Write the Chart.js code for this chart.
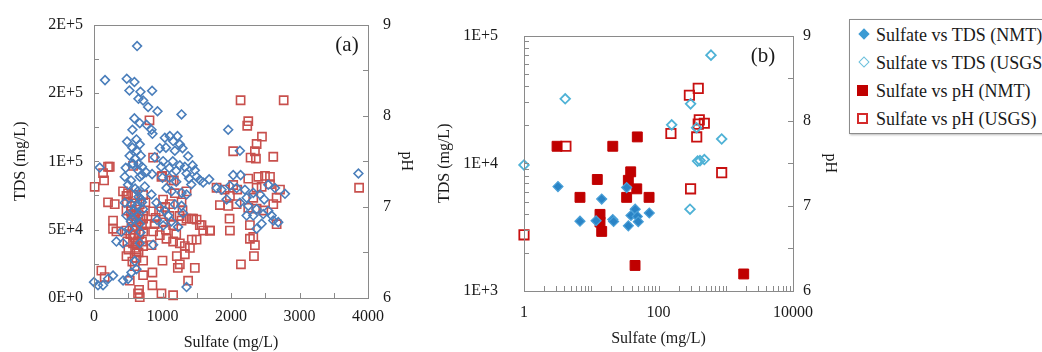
<!DOCTYPE html>
<html>
<head>
<meta charset="utf-8">
<script src="https://cdn.jsdelivr.net/npm/chart.js@4.4.1/dist/chart.umd.min.js"></script>
<style>
  body { margin: 0; background: #fff; width: 1042px; height: 352px; overflow: hidden; position: relative; font-family: "Liberation Serif", "DejaVu Serif", serif; }
  canvas { position: absolute; top: 0; }
  #chartA { left: 0; }
  #chartB { left: 420px; }
  #legend { position: absolute; left: 849px; top: 19px; width: 230px; height: 113px; border: 1px solid #8c8c8c; box-shadow: 1px 1px 2px #bbb; }
  #legend .row { position: absolute; left: 0; height: 28px; line-height: 28px; font-size: 18px; color: #1a1a1a; white-space: nowrap; }
  #legend .row span.txt { position: absolute; left: 20px; }
  #legend .sym { position: absolute; box-sizing: border-box; }
</style>
</head>
<body>
<canvas id="chartA" width="420" height="352"></canvas>
<canvas id="chartB" width="420" height="352"></canvas>
<div id="legend"></div>
<script>
// ---- panel (a): all samples, linear axes ----
const sulfateTdsA = [629, 161, 478, 590, 517, 848, 678, 649, 717, 790, 927, 1278, 590, 668, 766, 839, 853, 1959, 561, 483,
  620, 668, 1034, 1107, 1219, 1155, 1253, 1292, 961, 1180, 620, 683, 1374, 2130, 887, 1009, 570, 1253, 1326, 1439,
  83, 463, 643, 1472, 1351, 1497, 848, 449, 668, 1389, 1545, 1594, 1681, 2032, 2140, 2544, 2642, 2788, 3860, 497,
  741, 839, 1058, 1132, 1278, 1789, 1862, 1984, 2082, 2203, 2325, 2228, 2423, 2485, 1936, 2130, 2252, 2374, 2471, 2544,
  2593, 2325, 2447, 2374, 2228, 2617, 2690, 449, 547, 620, 717, 474, 570, 668, 912, 961, 1034, 1082, 1180, 1278,
  1351, 1228, 400, 512, 327, 424, 863, 668, 595, 0, 58, 132, 205, 278, 424, 497, 547, 620, 1351,
  520, 560, 700, 760, 640, 690, 920, 1010, 1130, 1300, 1420, 1000, 1100, 1200,
  560, 600, 650, 700, 540, 600, 650, 700, 580, 640, 540, 680, 1150, 1200, 1050, 980, 1100];
const tdsA = [184300, 159400, 160400, 158000, 151800, 151600, 150900, 145700, 144500, 139700, 136600, 134300, 131400, 127900, 126700, 123100, 120100, 123100, 123100, 114400,
  116000, 112400, 117200, 118400, 118400, 114800, 112400, 109600, 109600, 107700, 107700, 104100, 103700, 107700, 103000, 100100, 98200, 97000, 95900, 97000,
  95400, 95200, 93400, 93400, 91100, 88700, 90600, 88700, 88700, 87500, 86300, 84500, 86800, 89900, 89900, 82800, 80400, 76200, 91100, 82800,
  81600, 75700, 80400, 78100, 76900, 80400, 79200, 82100, 80400, 79200, 76900, 73300, 75700, 72100, 72100, 69700, 67400, 65000, 61400, 63800,
  60300, 60300, 54300, 50700, 60300, 56700, 55500, 69700, 68500, 67400, 65000, 60300, 57900, 54300, 69700, 66200, 63800, 60300, 68500, 67400,
  75700, 52000, 48400, 50700, 41300, 40100, 38900, 40100, 27000, 11600, 9300, 9300, 14000, 16400, 12800, 14000, 18700, 21100, 8000,
  104000, 98000, 96000, 92000, 78000, 72000, 57000, 53000, 56000, 62000, 83000, 88000, 95000, 85000,
  110000, 102000, 98000, 90000, 86000, 80000, 74000, 70000, 64000, 60000, 56000, 48000, 100000, 93000, 110000, 96000, 88000];
const sulfatePhA = [2140, 2769, 810, 2252, 2237, 2452, 2374, 2032, 2349, 2286, 2364, 2617, 863, 570, 205, 132, 147, 10, 3870, 994,
  1165, 2252, 2496, 2569, 2399, 2569, 2447, 2374, 2715, 424, 497, 474, 570, 717, 1180, 1351, 1789, 1907, 2032, 2091,
  2325, 1984, 205, 303, 547, 668, 1009, 1107, 1278, 1838, 1959, 2082, 2252, 2374, 2471, 2617, 2666, 474, 570, 717,
  863, 1038, 1292, 1447, 1497, 278, 278, 547, 620, 766, 887, 1009, 1155, 1278, 1351, 1424, 1570, 1694, 1979, 1984,
  2276, 2666, 327, 474, 570, 717, 863, 961, 1058, 1155, 1253, 1326, 1400, 1497, 1428, 487, 570, 629, 502, 620,
  717, 839, 474, 620, 717, 1000, 1209, 1326, 2325, 2276, 2349, 2335, 2145, 1224, 1472, 108, 156, 522, 717, 853,
  853, 658, 668, 985, 1155, 1374, 595, 1131, 985, 1545, 1594, 1694, 1253, 643, 230, 717,
  540, 600, 650, 560, 610, 660, 590, 640, 700, 530, 620, 680, 600, 650, 560, 700, 480, 750, 900, 950, 1050, 1100, 1200, 1250];
const phA = [8.17, 8.17, 7.95, 7.94, 7.89, 7.77, 7.69, 7.61, 7.61, 7.54, 7.53, 7.55, 7.54, 7.45, 7.44, 7.37, 7.29, 7.22, 7.21, 7.34,
  7.29, 7.31, 7.34, 7.33, 7.33, 7.25, 7.22, 7.21, 7.19, 7.17, 7.15, 7.12, 7.13, 7.13, 7.15, 7.17, 7.21, 7.19, 7.24, 7.19,
  7.10, 7.12, 7.05, 7.03, 7.01, 7.03, 7.08, 7.03, 7.05, 7.02, 7.01, 7.03, 6.99, 6.98, 6.96, 7.03, 7.10, 6.96, 6.92, 6.90,
  6.95, 7.00, 6.96, 6.87, 6.86, 6.85, 6.76, 6.85, 6.83, 6.81, 6.81, 6.83, 6.80, 6.85, 6.87, 6.87, 6.80, 6.74, 6.87, 6.74,
  6.80, 6.81, 6.73, 6.74, 6.69, 6.73, 6.73, 6.69, 6.65, 6.62, 6.60, 6.57, 6.55, 6.64, 6.64, 6.62, 6.60, 6.58, 6.53, 6.51,
  6.57, 6.58, 6.46, 6.44, 6.41, 6.41, 6.46, 6.48, 6.67, 6.65, 6.58, 6.46, 6.37, 6.33, 6.33, 6.30, 6.23, 6.19, 6.25, 6.28,
  6.14, 6.09, 6.01, 6.05, 6.03, 6.19, 6.35, 7.29, 7.33, 6.80, 6.74, 6.74, 6.37, 6.05, 7.44, 6.87,
  6.95, 6.90, 6.92, 6.78, 6.75, 6.70, 6.66, 6.62, 6.80, 6.70, 6.97, 6.86, 6.55, 6.50, 6.40, 6.62, 7.05, 7.05, 6.88, 6.95, 6.75, 6.90, 6.70, 6.90];

// ---- panel (b): NMT vs USGS, log axes ----
const sulfateTdsNmt = [3.2, 6.8, 11.8, 14.3, 20.9, 21.5, 33.6, 35.6, 39, 45, 48.4, 50, 73];
const tdsNmt = [6570, 3520, 3550, 5250, 3630, 3500, 6460, 3240, 3900, 4370, 3840, 3490, 4080];
const sulfateTdsUsgs = [1, 4.1, 157, 300, 603, 369, 381, 414, 480, 870, 294];
const tdsUsgs = [9700, 32000, 20000, 29200, 70300, 19000, 10400, 10500, 10700, 15500, 4370];
const sulfatePhNmt = [3.1, 6.8, 12.3, 13.5, 13.5, 14.3, 20.9, 33.6, 35.6, 38.6, 47.5, 48.4, 72.4, 44.8, 1850];
const phNmt = [7.70, 7.10, 7.31, 6.90, 6.81, 6.70, 7.70, 7.10, 7.30, 7.40, 7.20, 7.81, 7.10, 6.30, 6.20];
const sulfatePhUsgs = [1, 4.2, 153, 288, 390, 404, 390, 480, 370, 870, 300];
const phUsgs = [6.66, 7.70, 7.85, 8.30, 8.38, 8.01, 7.96, 7.97, 7.81, 7.39, 7.20];

const seriesLabels = ['Sulfate vs TDS (NMT)', 'Sulfate vs TDS (USGS)', 'Sulfate vs pH (NMT)', 'Sulfate vs pH (USGS)'];

// tick labels
const sulfateTicksA = ['0', '1000', '2000', '3000', '4000'];
const tdsTicksA = ['0E+0', '5E+4', '1E+5', '2E+5', '2E+5'];
const phTicks = ['6', '7', '8', '9'];
const sulfateTicksB = [1, 100, 10000];
const sulfateTickLabelsB = ['1', '100', '10000'];
const tdsTicksB = [1000, 10000, 100000];
const tdsTickLabelsB = ['1E+3', '1E+4', '1E+5'];

const pairs = (xs, ys) => xs.map((x, i) => ({ x: x, y: ys[i] }));
const range = (a, b, s) => { const r = []; for (let v = a; v <= b + 1e-9; v += s) r.push(v); return r; };
const logMarks = (lo, hi) => { const r = []; for (let d = lo; d < hi; d *= 10) for (let k = 1; k < 10; k++) r.push(d * k); r.push(hi); return r; };

const serif = "'Liberation Serif', 'DejaVu Serif', serif";
const tickFont = { family: serif, size: 16 };
const titleFont = { family: serif, size: 16 };
const ink = '#1a1a1a';

// frame, inward tick marks and the panel tag
const frameTicks = {
  id: 'frameTicks',
  afterDraw(chart, args, opts) {
    const { ctx, chartArea: a } = chart;
    ctx.save();
    ctx.strokeStyle = '#8a8a8a';
    ctx.lineWidth = 1;
    ctx.strokeRect(Math.round(a.left) + 0.5, Math.round(a.top) + 0.5, Math.round(a.right - a.left), Math.round(a.bottom - a.top));
    (opts.marks || []).forEach(m => {
      const s = chart.scales[m.id];
      m.values.forEach(v => {
        const p = Math.round(s.getPixelForValue(v)) + 0.5;
        ctx.beginPath();
        if (m.id === 'x') { ctx.moveTo(p, a.bottom); ctx.lineTo(p, a.bottom - 5); }
        else if (s.position === 'left') { ctx.moveTo(a.left, p); ctx.lineTo(a.left + 5, p); }
        else { ctx.moveTo(a.right, p); ctx.lineTo(a.right - 5, p); }
        ctx.stroke();
      });
    });
    if (opts.tag) {
      ctx.font = '21px ' + serif;
      ctx.fillStyle = ink;
      ctx.textAlign = 'center';
      ctx.textBaseline = 'middle';
      ctx.fillText(opts.tag, a.right - opts.tagDx, a.top + 21);
    }
    ctx.restore();
  }
};

function fixWidth(w) { return function (scale) { scale.width = w; }; }
function fixHeight(h) { return function (scale) { scale.height = h; }; }
const noGrid = { display: false, drawTicks: false };

function phAxis(width, pad, titlePad) {
  return {
    type: 'linear', position: 'right', min: 6, max: 9,
    grid: noGrid, border: { display: false },
    afterFit: fixWidth(width),
    ticks: { stepSize: 1, padding: pad, color: ink, font: tickFont, callback: (v, i) => phTicks[i] },
    title: { display: true, text: 'pH', color: ink, font: titleFont, padding: { top: titlePad, bottom: 0 } }
  };
}

function drawCharts() {
new Chart(document.getElementById('chartA'), {
  type: 'scatter',
  data: {
    datasets: [
      { label: 'TDS', data: pairs(sulfateTdsA, tdsA), yAxisID: 'y', pointStyle: 'rectRot', radius: 4.4,
        borderColor: '#4a7ebb', backgroundColor: 'rgba(0,0,0,0)', borderWidth: 1.6, clip: false },
      { label: 'pH', data: pairs(sulfatePhA, phA), yAxisID: 'y1', pointStyle: 'rect', radius: 5.8,
        borderColor: '#c8504d', backgroundColor: 'rgba(0,0,0,0)', borderWidth: 1.6, clip: false }
    ]
  },
  options: {
    responsive: false,
    animation: false,
    layout: { padding: { top: 17, right: 0, bottom: 0, left: 0 } },
    plugins: {
      legend: { display: false },
      tooltip: { enabled: false },
      frameTicks: {
        tag: '(a)', tagDx: 21,
        marks: [
          { id: 'x', values: range(0, 4000, 500) },
          { id: 'y', values: range(0, 200000, 25000) },
          { id: 'y1', values: range(6, 9, 0.5) }
        ]
      }
    },
    scales: {
      x: {
        type: 'linear', min: 0, max: 4000,
        grid: noGrid, border: { display: false },
        afterFit: fixHeight(54),
        ticks: { stepSize: 1000, padding: 9, color: ink, font: tickFont, maxRotation: 0, callback: (v, i) => sulfateTicksA[i] },
        title: { display: true, text: 'Sulfate (mg/L)', color: ink, font: titleFont, padding: { top: 0, bottom: 0 } }
      },
      y: {
        type: 'linear', position: 'left', min: 0, max: 200000,
        grid: noGrid, border: { display: false },
        afterFit: fixWidth(94),
        ticks: { stepSize: 50000, padding: 11, color: ink, font: tickFont, callback: (v, i) => tdsTicksA[i] },
        title: { display: true, text: 'TDS (mg/L)', color: ink, font: titleFont, padding: { top: 11, bottom: 0 } }
      },
      y1: phAxis(52, 15, 4)
    }
  },
  plugins: [frameTicks]
});

new Chart(document.getElementById('chartB'), {
  type: 'scatter',
  data: {
    datasets: [
      { label: seriesLabels[0], data: pairs(sulfateTdsNmt, tdsNmt), yAxisID: 'y', pointStyle: 'rectRot', radius: 5,
        borderColor: '#4aa0d8', backgroundColor: '#2a84c6', borderWidth: 1.2, clip: false },
      { label: seriesLabels[1], data: pairs(sulfateTdsUsgs, tdsUsgs), yAxisID: 'y', pointStyle: 'rectRot', radius: 4.8,
        borderColor: '#4fb2d6', backgroundColor: 'rgba(0,0,0,0)', borderWidth: 1.8, clip: false },
      { label: seriesLabels[2], data: pairs(sulfatePhNmt, phNmt), yAxisID: 'y1', pointStyle: 'rect', radius: 7,
        borderColor: '#c00000', backgroundColor: '#c00000', borderWidth: 1, clip: false },
      { label: seriesLabels[3], data: pairs(sulfatePhUsgs, phUsgs), yAxisID: 'y1', pointStyle: 'rect', radius: 6.6,
        borderColor: '#c81010', backgroundColor: 'rgba(0,0,0,0)', borderWidth: 1.8, clip: false }
    ]
  },
  options: {
    responsive: false,
    animation: false,
    layout: { padding: { top: 17, right: 0, bottom: 0, left: 0 } },
    plugins: {
      legend: { display: false },
      tooltip: { enabled: false },
      frameTicks: {
        tag: '(b)', tagDx: 30,
        marks: [
          { id: 'x', values: logMarks(1, 10000) },
          { id: 'y', values: logMarks(1000, 100000) },
          { id: 'y1', values: range(6, 9, 0.5) }
        ]
      }
    },
    scales: {
      x: {
        type: 'logarithmic', min: 1, max: 10000,
        grid: noGrid, border: { display: false },
        afterFit: fixHeight(61),
        afterBuildTicks: s => { s.ticks = sulfateTicksB.map(v => ({ value: v })); },
        ticks: { padding: 12, color: ink, font: tickFont, maxRotation: 0, autoSkip: false,
          callback: v => sulfateTickLabelsB[sulfateTicksB.indexOf(v)] },
        title: { display: true, text: 'Sulfate (mg/L)', color: ink, font: titleFont, padding: { top: 0, bottom: 4 } }
      },
      y: {
        type: 'logarithmic', position: 'left', min: 1000, max: 100000,
        grid: noGrid, border: { display: false },
        afterFit: fixWidth(104),
        afterBuildTicks: s => { s.ticks = tdsTicksB.map(v => ({ value: v })); },
        ticks: { padding: 26, color: ink, font: tickFont, autoSkip: false,
          callback: v => tdsTickLabelsB[tdsTicksB.indexOf(v)] },
        title: { display: true, text: 'TDS (mg/L)', color: ink, font: titleFont, padding: { top: 15, bottom: 0 } }
      },
      y1: phAxis(47, 10, 0)
    }
  },
  plugins: [frameTicks]
});
}

// legend box (right side, clipped by the page edge like the original)
const legendSymbols = [
  'left:4px;top:9px;width:8px;height:8px;background:#3c9bd3;transform:rotate(45deg);',
  'left:4px;top:9px;width:8px;height:8px;border:1px solid #6cc0dc;transform:rotate(45deg);',
  'left:1px;top:8px;width:11px;height:11px;background:#c00000;',
  'left:1px;top:8px;width:11px;height:11px;border:2px solid #d42a2a;background:#fff;'
];
const legendEl = document.getElementById('legend');
seriesLabels.forEach((label, i) => {
  const row = document.createElement('div');
  row.className = 'row';
  row.style.top = (i * 28 + 1) + 'px';
  row.style.left = '6px';
  row.innerHTML = '<span class="sym" style="' + legendSymbols[i] + '"></span><span class="txt"></span>';
  row.querySelector('.txt').textContent = label;
  legendEl.appendChild(row);
});

// make sure the serif face is ready before the canvas text is drawn
if (document.fonts && document.fonts.load) {
  Promise.all([document.fonts.load("16px 'Liberation Serif'"), document.fonts.load("16px 'DejaVu Serif'")])
    .then(drawCharts, drawCharts);
} else {
  drawCharts();
}
</script>
</body>
</html>
